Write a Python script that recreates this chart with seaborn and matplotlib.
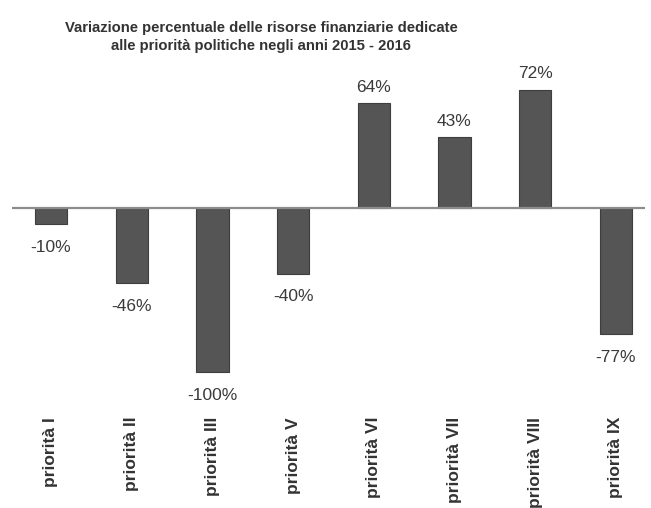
import matplotlib
matplotlib.use("Agg")
import matplotlib.pyplot as plt
import seaborn as sns
import pandas as pd

categories = ["priorità I", "priorità II", "priorità III", "priorità V",
              "priorità VI", "priorità VII", "priorità VIII", "priorità IX"]
values = [-10, -46, -100, -40, 64, 43, 72, -77]
value_labels = ["-10%", "-46%", "-100%", "-40%", "64%", "43%", "72%", "-77%"]
title_text = ("Variazione percentuale delle risorse finanziarie dedicate\n"
              "alle priorità politiche negli anni 2015 - 2016")

sns.set_theme(style="white")
plt.rcParams["font.family"] = ["Liberation Sans", "DejaVu Sans"]

W, H = 651, 508
fig = plt.figure(figsize=(W / 100, H / 100), dpi=100)
fig.patch.set_facecolor("white")

top_px, bot_px = 60, 410
left_px, right_px = 12, 645
ax = fig.add_axes([left_px / W, (H - bot_px) / H,
                   (right_px - left_px) / W, (bot_px - top_px) / H])

df = pd.DataFrame({"cat": categories, "val": values})
sns.barplot(data=df, x="cat", y="val", color="#555555", width=0.4,
            edgecolor="#3e3e3e", linewidth=0.8, saturation=1, ax=ax)

zero_px = 208
scale = 1.64
ax.set_ylim(-(bot_px - zero_px) / scale, (zero_px - top_px) / scale)
ax.set_xlim(-39 / 80.7, 594 / 80.7)

ax.axhline(0, color="#8c8c8c", lw=1.6, zorder=3)

for i, (v, lab) in enumerate(zip(values, value_labels)):
    off = 16 if v >= 0 else -23
    ax.annotate(lab, xy=(i, v), xytext=(0, off), textcoords="offset pixels",
                ha="center", va="center", fontsize=12.5, color="#3a3a3a")

for s in ax.spines.values():
    s.set_visible(False)
ax.set_yticks([])
ax.set_xlabel("")
ax.set_ylabel("")
ax.tick_params(axis="x", length=0, pad=5)
ax.set_xticks(range(len(categories)))
ax.set_xticklabels(categories, rotation=90, fontsize=12.5,
                   fontweight="bold", color="#333333")

fig.text(261 / W, 1 - 37 / H, title_text, ha="center", va="center",
         fontsize=10.7, fontweight="bold", color="#333333", linespacing=1.3)

fig.savefig("out.png", dpi=100, facecolor="white")
